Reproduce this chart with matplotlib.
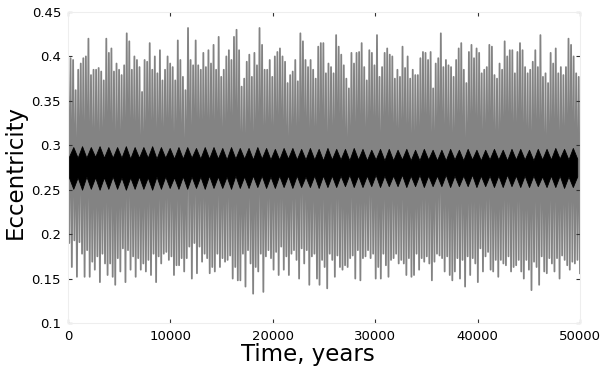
import numpy as np
import matplotlib
matplotlib.use("Agg")
import matplotlib.pyplot as plt

# ---- data ----
# gray series: upper excursions (left to right)
gray_highs = [
    0.404, 0.398, 0.396, 0.362, 0.385, 0.392, 0.398, 0.400, 0.420, 0.379, 0.385, 0.385, 0.387, 0.383,
    0.373, 0.420, 0.404, 0.409, 0.383, 0.392, 0.385, 0.379, 0.390, 0.426, 0.417, 0.385, 0.400, 0.396,
    0.388, 0.360, 0.396, 0.394, 0.415, 0.385, 0.400, 0.381, 0.407, 0.373, 0.385, 0.400, 0.392, 0.388,
    0.373, 0.418, 0.396, 0.377, 0.362, 0.432, 0.396, 0.390, 0.418, 0.390, 0.385, 0.404, 0.388, 0.407,
    0.392, 0.413, 0.385, 0.422, 0.377, 0.385, 0.400, 0.407, 0.396, 0.422,
    0.430, 0.407, 0.366, 0.375, 0.394, 0.402, 0.377, 0.404, 0.390, 0.432, 0.413, 0.385, 0.385, 0.396,
    0.377, 0.400, 0.405, 0.409, 0.400, 0.394, 0.370, 0.379, 0.383, 0.396, 0.372, 0.426, 0.417, 0.396,
    0.388, 0.396, 0.385, 0.375, 0.411, 0.415, 0.415, 0.381, 0.392, 0.388, 0.381, 0.424, 0.411, 0.402,
    0.390, 0.375, 0.364, 0.404, 0.392, 0.404, 0.405, 0.415, 0.388, 0.373, 0.407, 0.404, 0.390, 0.424,
    0.377, 0.388, 0.404, 0.409, 0.402, 0.400, 0.375, 0.385, 0.377, 0.411, 0.387, 0.400,
    0.375, 0.385, 0.379, 0.379, 0.398, 0.405, 0.404, 0.396, 0.405, 0.364, 0.392, 0.398, 0.426, 0.388,
    0.396, 0.390, 0.388, 0.377, 0.396, 0.409, 0.415, 0.385, 0.370, 0.405, 0.413, 0.398, 0.409, 0.404,
    0.381, 0.385, 0.388, 0.413, 0.411, 0.379, 0.375, 0.392, 0.385, 0.417, 0.400, 0.407, 0.407, 0.381,
    0.405, 0.415, 0.407, 0.388, 0.381, 0.385, 0.394, 0.407, 0.388, 0.424, 0.377, 0.381, 0.370, 0.404,
    0.392, 0.409, 0.381, 0.388, 0.379, 0.388, 0.420, 0.413, 0.400, 0.381, 0.377,
]
# gray series: lower excursions (left to right)
gray_lows = [
    0.190, 0.163, 0.193, 0.152, 0.191, 0.178, 0.152, 0.182, 0.152, 0.169, 0.160, 0.175, 0.146, 0.178,
    0.167, 0.141, 0.154, 0.167, 0.152, 0.143, 0.173, 0.158, 0.184, 0.146, 0.182, 0.160, 0.175, 0.152,
    0.173, 0.160, 0.167, 0.158, 0.171, 0.154, 0.178, 0.146, 0.175, 0.167, 0.178, 0.180, 0.171, 0.175,
    0.154, 0.165, 0.130, 0.165, 0.173, 0.158, 0.173, 0.186, 0.150, 0.190, 0.156, 0.186, 0.169, 0.178,
    0.173, 0.156, 0.163, 0.158, 0.178, 0.163, 0.173, 0.169, 0.171, 0.176, 0.150, 0.163, 0.148,
    0.148, 0.178, 0.141, 0.182, 0.167, 0.175, 0.133, 0.163, 0.158, 0.178, 0.135, 0.175, 0.182, 0.173,
    0.160, 0.180, 0.154, 0.186, 0.160, 0.175, 0.154, 0.178, 0.182, 0.171, 0.150, 0.184, 0.167, 0.182,
    0.143, 0.175, 0.178, 0.150, 0.143, 0.171, 0.163, 0.161, 0.139, 0.178, 0.171, 0.152, 0.176, 0.163,
    0.160, 0.165, 0.163, 0.173, 0.176, 0.150, 0.182, 0.148, 0.173, 0.175, 0.182, 0.173, 0.178, 0.150,
    0.163, 0.150, 0.178, 0.165, 0.152, 0.171, 0.173, 0.178, 0.141, 0.167, 0.171, 0.167, 0.154, 0.173,
    0.152,
    0.154, 0.178, 0.160, 0.173, 0.169, 0.175, 0.167, 0.148, 0.169, 0.178, 0.176, 0.173, 0.158, 0.175,
    0.154, 0.148, 0.158, 0.173, 0.150, 0.171, 0.141, 0.175, 0.154, 0.186, 0.173, 0.167, 0.146, 0.184,
    0.158, 0.175, 0.180, 0.160, 0.158, 0.171, 0.152, 0.171, 0.167, 0.165, 0.175, 0.158, 0.163, 0.165,
    0.171, 0.158, 0.150, 0.171, 0.160, 0.137, 0.169, 0.163, 0.143, 0.175, 0.163, 0.158, 0.156, 0.173,
    0.167, 0.158, 0.173, 0.150, 0.176, 0.171, 0.165, 0.160, 0.169, 0.167, 0.171, 0.156,
]
# black series: envelope of the fast oscillation
black_upper_peaks = [
    0.298, 0.299, 0.298, 0.299, 0.298, 0.298, 0.299, 0.298, 0.298, 0.299, 0.298, 0.297, 0.298, 0.298,
    0.297, 0.298, 0.298, 0.297, 0.298, 0.297, 0.297, 0.298, 0.297, 0.296, 0.297, 0.297, 0.296, 0.297,
    0.296, 0.297, 0.296, 0.296, 0.297, 0.296, 0.295, 0.296, 0.296, 0.295, 0.296, 0.295, 0.296, 0.295,
    0.295, 0.296, 0.295, 0.296, 0.295, 0.295, 0.296, 0.295, 0.296, 0.296, 0.295, 0.296, 0.296, 0.297,
    0.296, 0.297,
]
black_upper_valleys = [
    0.287, 0.286, 0.286, 0.287, 0.286, 0.286, 0.286, 0.285, 0.286, 0.286, 0.285, 0.286, 0.285, 0.285,
    0.286, 0.285, 0.285, 0.285, 0.284, 0.285, 0.285, 0.284, 0.285, 0.284, 0.284, 0.285, 0.284, 0.284,
    0.284, 0.283, 0.284, 0.284, 0.283, 0.284, 0.283, 0.284, 0.283, 0.283, 0.284, 0.283, 0.283, 0.284,
    0.283, 0.283, 0.284, 0.283, 0.284, 0.283, 0.284, 0.284, 0.283, 0.284, 0.284, 0.283, 0.284, 0.284,
    0.285, 0.284, 0.285,
]
black_lower_tips = [
    0.251, 0.250, 0.251, 0.250, 0.251, 0.251, 0.250, 0.251, 0.251, 0.250, 0.251, 0.252, 0.251, 0.251,
    0.252, 0.251, 0.252, 0.252, 0.251, 0.252, 0.252, 0.253, 0.252, 0.252, 0.253, 0.252, 0.253, 0.253,
    0.252, 0.253, 0.253, 0.254, 0.253, 0.253, 0.254, 0.253, 0.254, 0.254, 0.253, 0.254, 0.253, 0.254,
    0.254, 0.253, 0.254, 0.254, 0.253, 0.254, 0.253, 0.253, 0.254, 0.253, 0.253, 0.254, 0.253, 0.253,
    0.252, 0.253,
]
black_lower_valleys = [
    0.264, 0.264, 0.265, 0.264, 0.264, 0.265, 0.264, 0.264, 0.265, 0.264, 0.265, 0.265, 0.264, 0.265,
    0.265, 0.265, 0.266, 0.265, 0.265, 0.266, 0.265, 0.266, 0.266, 0.265, 0.266, 0.266, 0.266, 0.265,
    0.266, 0.266, 0.266, 0.266, 0.267, 0.266, 0.266, 0.267, 0.266, 0.266, 0.267, 0.266, 0.267, 0.266,
    0.266, 0.267, 0.266, 0.266, 0.267, 0.266, 0.266, 0.266, 0.267, 0.266, 0.266, 0.266, 0.265, 0.266,
    0.266, 0.265, 0.265,
]
black_first_peak_time = 515
black_last_peak_time = 49300

x_ticks = [0, 10000, 20000, 30000, 40000, 50000]
x_tick_labels = ["0", "10000", "20000", "30000", "40000", "50000"]
y_ticks = [0.1, 0.15, 0.2, 0.25, 0.3, 0.35, 0.4, 0.45]
y_tick_labels = ["0.1", "0.15", "0.2", "0.25", "0.3", "0.35", "0.4", "0.45"]
x_label = "Time, years"
y_label = "Eccentricity"

# ---- build series: strictly alternate upper and lower excursions ----
n = min(len(gray_highs), len(gray_lows))
hi = np.asarray(gray_highs)[np.round(np.linspace(0, len(gray_highs) - 1, n)).astype(int)]
lo = np.asarray(gray_lows)[np.round(np.linspace(0, len(gray_lows) - 1, n)).astype(int)]
v_gray = np.empty(2 * n)
v_gray[0::2] = hi
v_gray[1::2] = lo
t_gray = np.linspace(0, 50000, 2 * n)

n_pk = len(black_upper_peaks)
period = (black_last_peak_time - black_first_peak_time) / (n_pk - 1)
t_pk = np.linspace(black_first_peak_time, black_last_peak_time, n_pk)
t_va = np.linspace(black_first_peak_time - period / 2, black_last_peak_time + period / 2, n_pk + 1)
t_env = np.empty(2 * n_pk + 1)
t_env[0::2] = t_va
t_env[1::2] = t_pk
upper = np.empty(2 * n_pk + 1)
upper[0::2] = black_upper_valleys
upper[1::2] = black_upper_peaks
lower = np.empty(2 * n_pk + 1)
lower[0::2] = black_lower_valleys
lower[1::2] = black_lower_tips

# ---- figure ----
fig = plt.figure(figsize=(6.0, 3.72), dpi=100)
ax = fig.add_axes([68 / 600, 49 / 372, 512 / 600, 311 / 372])
ax.plot(t_gray, v_gray, color="#838383", lw=1.3, zorder=1)
ax.fill_between(t_env, lower, upper, color="black", lw=0.6, edgecolor="black", zorder=2)

ax.set_xlim(0, 50000)
ax.set_ylim(0.1, 0.45)
ax.set_xticks(x_ticks)
ax.set_xticklabels(x_tick_labels)
ax.set_yticks(y_ticks)
ax.set_yticklabels(y_tick_labels)
ax.tick_params(direction="in", length=3, width=0.8, top=True, right=True,
               labelsize=9.5, pad=5, color="#333333")
for s in ax.spines.values():
    s.set_color("#eeeeee")
    s.set_linewidth(0.8)

fig.text(308 / 600, 1 - 355 / 372, x_label, ha="center", va="center", fontsize=16.5)
fig.text(15 / 600, 1 - 172 / 372, y_label, ha="center", va="center", fontsize=16.5, rotation=90)

fig.savefig("out.png", dpi=100)
